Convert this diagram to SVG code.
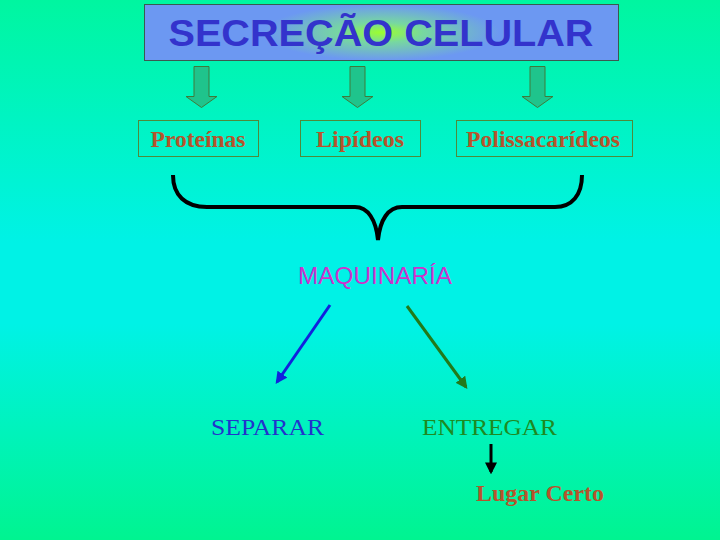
<svg xmlns="http://www.w3.org/2000/svg" width="720" height="540" viewBox="0 0 720 540">
<defs>
<linearGradient id="bg" x1="0" y1="0" x2="0" y2="1">
<stop offset="0" stop-color="#00F6A0"/>
<stop offset="0.45" stop-color="#00F2E6"/>
<stop offset="0.6" stop-color="#00F2E6"/>
<stop offset="1" stop-color="#00F490"/>
</linearGradient>
<radialGradient id="tg" cx="0.5" cy="0.5" r="0.5" gradientTransform="translate(0.5 0.5) scale(0.5 1) translate(-0.5 -0.5)">
<stop offset="0" stop-color="#9CFF2E"/>
<stop offset="0.35" stop-color="#77D8A0"/>
<stop offset="1" stop-color="#6C98F2"/>
</radialGradient>
<marker id="mb" viewBox="0 0 10 10" refX="8" refY="5" markerWidth="4" markerHeight="4" orient="auto"><path d="M0,0L10,5L0,10z" fill="#1122DD"/></marker>
<marker id="mg" viewBox="0 0 10 10" refX="8" refY="5" markerWidth="4" markerHeight="4" orient="auto"><path d="M0,0L10,5L0,10z" fill="#227A1A"/></marker>
<marker id="mk" viewBox="0 0 10 10" refX="8" refY="5" markerWidth="4" markerHeight="4" orient="auto"><path d="M0,0L10,5L0,10z" fill="#000"/></marker>
</defs>
<style>
.box{fill:none;stroke:#4F8A3A;stroke-width:1}
.lbl{font-family:"Liberation Serif",serif;font-weight:bold;font-size:23px;fill:#B5542C;text-anchor:middle}
.blk{fill:#1FC48C;stroke:#3F7A3A;stroke-width:1}
.tn{font-family:"Liberation Serif",serif;font-size:23px;text-anchor:middle}
</style>
<rect x="0" y="0" width="720" height="540" fill="url(#bg)"/>
<g id="title">
<rect x="144.5" y="4.5" width="474" height="56" fill="url(#tg)" stroke="#3A5A50" stroke-width="1"/>
<text x="381" y="46" font-family="Liberation Sans,Arial,sans-serif" font-weight="bold" font-size="37" fill="#3333CC" text-anchor="middle" textLength="425" lengthAdjust="spacingAndGlyphs">SECREÇÃO CELULAR</text>
</g>
<g id="proteinas">
<rect class="box" x="138.5" y="120.5" width="120" height="36"/>
<text class="lbl" x="198" y="147" textLength="95" lengthAdjust="spacingAndGlyphs">Proteínas</text>
</g>
<g id="lipideos">
<rect class="box" x="300.5" y="120.5" width="120" height="36"/>
<text class="lbl" x="360" y="147" textLength="88" lengthAdjust="spacingAndGlyphs">Lipídeos</text>
</g>
<g id="polissacarideos">
<rect class="box" x="456.5" y="120.5" width="176" height="36"/>
<text class="lbl" x="543" y="147" textLength="154" lengthAdjust="spacingAndGlyphs">Polissacarídeos</text>
</g>
<g id="maquinaria">
<text x="375" y="284" font-family="Liberation Sans,Arial,sans-serif" font-size="23.5" fill="#CC33CC" text-anchor="middle" textLength="154" lengthAdjust="spacingAndGlyphs">MAQUINARÍA</text>
</g>
<g id="separar">
<text class="tn" x="267.5" y="435" fill="#2233CC" textLength="113" lengthAdjust="spacingAndGlyphs">SEPARAR</text>
</g>
<g id="entregar">
<text class="tn" x="489.5" y="435" fill="#1E8A22" textLength="135" lengthAdjust="spacingAndGlyphs">ENTREGAR</text>
</g>
<g id="lugar">
<text x="540" y="501" font-family="Liberation Serif,serif" font-weight="bold" font-size="22.5" fill="#B5542C" text-anchor="middle" textLength="128" lengthAdjust="spacingAndGlyphs">Lugar Certo</text>
</g>
<g id="connectors">
<path class="blk" d="M194,66.5H209V96.5H217L201.5,107.5L186,96.5H194Z"/>
<path class="blk" d="M350,66.5H365V96.5H373L357.5,107.5L342,96.5H350Z"/>
<path class="blk" d="M530,66.5H545V96.5H553L537.5,107.5L522,96.5H530Z"/>
<path d="M173,175C173,195 185,207 207,207H355C368,207 376,220 378,240C380,220 388,207 402,207H555C572,207 582,195 582,175" fill="none" stroke="#000" stroke-width="4"/>
<line x1="330" y1="305" x2="277" y2="382" stroke="#1122DD" stroke-width="3" marker-end="url(#mb)"/>
<line x1="407" y1="306" x2="466" y2="387" stroke="#227A1A" stroke-width="3" marker-end="url(#mg)"/>
<line x1="491" y1="444" x2="491" y2="472" stroke="#000" stroke-width="3" marker-end="url(#mk)"/>
</g>
</svg>
